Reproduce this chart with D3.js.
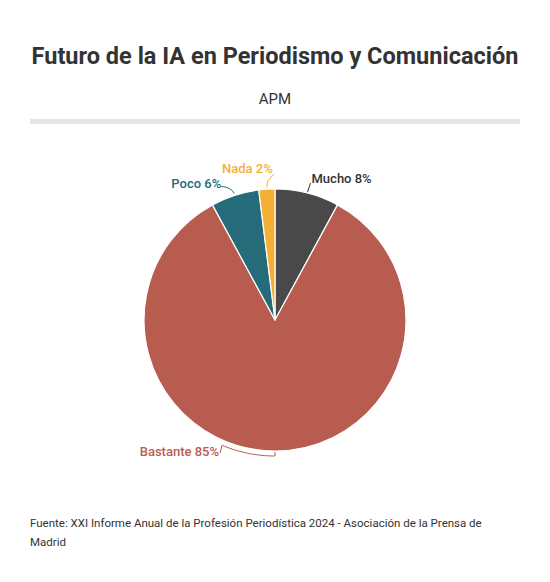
<!DOCTYPE html>
<html><head><meta charset="utf-8">
<script src="https://cdn.jsdelivr.net/npm/d3@7"></script>
<style>
body{margin:0;background:#fff;font-family:Roboto,"Noto Sans",sans-serif;}
</style></head>
<body><svg id="c" width="550" height="582"></svg>
<script>
const categories = ["Mucho", "Bastante", "Poco", "Nada"];
const values = [8, 85, 6, 2];
const palette = ["#494949", "#b95c50", "#256b7a", "#f2b035"];
const labelColors = ["#333333", "#b95c50", "#256b7a", "#f2b035"];

const svg = d3.select("#c");
const W = 550;

svg.append("text").attr("x", W/2).attr("y", 64).attr("text-anchor","middle")
  .attr("font-size", 23.5).attr("font-weight", 700).attr("fill", "#333")
  .text("Futuro de la IA en Periodismo y Comunicación");
svg.append("text").attr("x", W/2).attr("y", 104).attr("text-anchor","middle")
  .attr("font-size", 15).attr("fill", "#333").text("APM");
svg.append("rect").attr("x", 30).attr("y", 119).attr("width", 490).attr("height", 5).attr("fill", "#e6e6e6");

const cx = 275, cy = 320, R = 131;
const g = svg.append("g").attr("transform", `translate(${cx},${cy})`);
const pie = d3.pie().sort(null).value(d => d)(values);
const arc = d3.arc().innerRadius(0).outerRadius(R);
g.selectAll("path.slice").data(pie).join("path").attr("class","slice")
  .attr("d", arc).attr("fill", (d,i) => palette[i])
  .attr("stroke", "#fff").attr("stroke-width", 1.2).attr("stroke-linejoin","round");

const pt = (a, r) => [r*Math.sin(a), -r*Math.cos(a)];
const mid = d => (d.startAngle + d.endAngle)/2;
const fs = 13;
function label(i, x, y, anchor){
  g.append("text").attr("x", x).attr("y", y).attr("text-anchor", anchor)
    .attr("font-size", fs).attr("font-weight", 500).attr("fill", labelColors[i])
    .text(`${categories[i]} ${values[i]}%`);
}
const line = (pts, i) => g.append("path").attr("d", d3.line()(pts))
  .attr("fill","none").attr("stroke", labelColors[i]).attr("stroke-width", 1);

// Mucho
{ const d = pie[0], a = mid(d); const p0 = pt(a, R+1), p1 = [p0[0]+3, p0[1]-9];
  line([p0, p1], 0); label(0, p1[0]+1, p1[1]+0, "start"); }
// Nada
{ const d = pie[3], a = mid(d); const p0 = pt(a, R+2), p1 = [p0[0]+1, p0[1]-6], p2 = [p1[0]+6, p1[1]-7];
  line([p0, p1, p2], 3); label(3, p2[0]-1, p2[1]-1.5, "end"); }
// Poco
{ const d = pie[2], a = mid(d); const p0 = pt(a, R+2);
  const p2 = [p0[0]-13, p0[1]-7];
  g.append("path").attr("d", `M${p0[0]},${p0[1]} Q${p0[0]-3},${p0[1]-6} ${p2[0]},${p2[1]}`)
   .attr("fill","none").attr("stroke", labelColors[2]).attr("stroke-width", 1);
  label(2, p2[0], p2[1]+1.5, "end"); }
// Bastante (curved bracket along the outer arc)
{ const a0 = Math.PI, a1 = Math.PI + 0.40, r1 = R + 5;
  const s0 = pt(a0, R+1), e = pt(a1, r1);
  const pts = d3.range(0, 21).map(k => pt(a0 + (a1-a0)*k/20, r1));
  line([s0].concat(pts), 1);
  const e2 = [e[0]-2, e[1]+8];
  line([e, e2], 1);
  label(1, e2[0]-1, e2[1]+3, "end"); }

const foot = svg.append("text").attr("font-size", 11.5).attr("fill", "#333");
foot.append("tspan").attr("x", 30).attr("y", 527)
  .text("Fuente: XXI Informe Anual de la Profesión Periodística 2024 - Asociación de la Prensa de");
foot.append("tspan").attr("x", 30).attr("y", 546).text("Madrid");
</script></body></html>
